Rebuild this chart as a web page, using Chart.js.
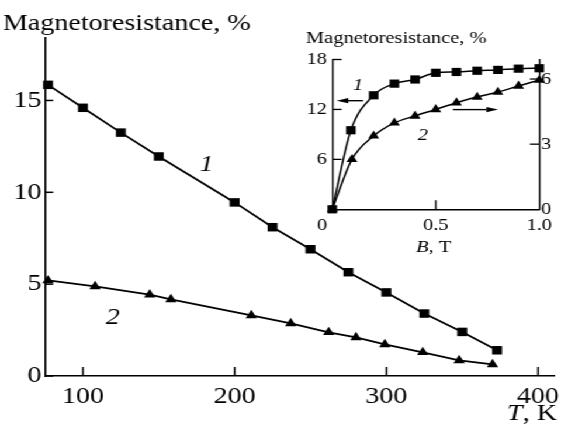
<!DOCTYPE html>
<html>
<head>
<meta charset="utf-8">
<script src="https://cdn.jsdelivr.net/npm/chart.js@4.4.1/dist/chart.umd.min.js"></script>
<style>
    html, body { margin: 0; padding: 0; background: #fff; }
    #stage { position: relative; width: 480px; height: 431px; transform: scaleX(1.16875); transform-origin: 0 0; }
    #stage canvas { position: absolute; top: 0; }
    #mainChart { left: 0; }
    #insetChart { left: 250px; }
</style>
</head>
<body>
<div id="stage">
    <canvas id="mainChart" width="480" height="431"></canvas>
    <canvas id="insetChart" width="230" height="260"></canvas>
</div>
<script>
// Magnetoresistance vs temperature, samples 1 (squares) and 2 (triangles)
const tempSample1 = [77, 100, 125, 150, 200, 225, 250, 275, 300, 325, 350, 373];
const mrSample1 = [15.85, 14.6, 13.25, 11.95, 9.45, 8.1, 6.9, 5.65, 4.55, 3.4, 2.4, 1.4];
const tempSample2 = [77, 108, 144, 158, 211, 237, 262, 280, 299, 324, 348, 370];
const mrSample2 = [5.2, 4.88, 4.43, 4.17, 3.3, 2.86, 2.38, 2.1, 1.72, 1.29, 0.85, 0.63];

// Field dependence (inset): sample 1 on left axis, sample 2 on right axis
const fieldSample1 = [0, 0.09, 0.2, 0.3, 0.4, 0.5, 0.6, 0.7, 0.8, 0.9, 1.0];
const mrField1 = [0, 9.5, 13.7, 15.1, 15.6, 16.4, 16.5, 16.65, 16.75, 16.9, 16.95];
const fieldSample2 = [0, 0.095, 0.2, 0.3, 0.4, 0.5, 0.6, 0.7, 0.8, 0.9, 1.0];
const mrField2 = [0, 2.3, 3.38, 3.98, 4.3, 4.6, 4.91, 5.17, 5.4, 5.68, 5.95];

// Tick values and labels
const tempTicks = [100, 200, 300, 400];
const tempLabels = ['100', '200', '300', '400'];
const mrTicks = [0, 5, 10, 15];
const mrLabels = ['0', '5', '10', '15'];
const fieldTicks = [0, 0.5, 1.0];
const fieldLabels = ['0\u2003', '0.5', '1.0'];
const leftTicks = [0, 6, 12, 18];
const leftLabels = ['', '6', '12', '18'];
const rightTicks = [0, 3, 6];
const rightLabels = ['0', '3', '6'];

const SERIF = '"Liberation Serif", "Times New Roman", serif';

function fixedTicks(values) {
    return scale => { scale.ticks = values.map(v => ({ value: v })); };
}

function fixedSize(prop, size) {
    return scale => {
        scale[prop] = size;
        scale.paddingLeft = scale.paddingRight = scale.paddingTop = scale.paddingBottom = 0;
    };
}

// tick marks pointing into the plot area
function inwardTicks(chart, id, values, len, width) {
    const s = chart.scales[id];
    const a = chart.chartArea;
    const ctx = chart.ctx;
    ctx.save();
    ctx.strokeStyle = '#000';
    ctx.lineWidth = width;
    values.forEach(v => {
        const p = s.getPixelForValue(v);
        ctx.beginPath();
        if (s.isHorizontal()) {
            ctx.moveTo(p, a.bottom);
            ctx.lineTo(p, a.bottom - len);
        } else if (s.position === 'left') {
            ctx.moveTo(a.left, p);
            ctx.lineTo(a.left + len, p);
        } else {
            ctx.moveTo(a.right, p);
            ctx.lineTo(a.right - len, p);
        }
        ctx.stroke();
    });
    ctx.restore();
}

// text made of italic / upright pieces
function richText(ctx, parts, x, y, size, align) {
    const fontOf = p => (p.italic ? 'italic ' : '') + size + 'px ' + SERIF;
    let total = 0;
    parts.forEach(p => { ctx.font = fontOf(p); total += ctx.measureText(p.text).width; });
    let cx = align === 'right' ? x - total : align === 'center' ? x - total / 2 : x;
    ctx.save();
    ctx.fillStyle = '#000';
    ctx.textBaseline = 'alphabetic';
    ctx.textAlign = 'left';
    parts.forEach(p => {
        ctx.font = fontOf(p);
        ctx.fillText(p.text, cx, y);
        cx += ctx.measureText(p.text).width;
    });
    ctx.restore();
}

function labelAt(chart, xId, yId, xv, yv, text, size) {
    const ctx = chart.ctx;
    ctx.save();
    ctx.fillStyle = '#000';
    ctx.font = 'italic ' + size + 'px ' + SERIF;
    ctx.textAlign = 'center';
    ctx.textBaseline = 'middle';
    ctx.fillText(text, chart.scales[xId].getPixelForValue(xv), chart.scales[yId].getPixelForValue(yv));
    ctx.restore();
}

function arrow(chart, xFrom, xTo, yv) {
    const ctx = chart.ctx;
    const sx = chart.scales.x, sy = chart.scales.y;
    const x0 = sx.getPixelForValue(xFrom), x1 = sx.getPixelForValue(xTo), y = sy.getPixelForValue(yv);
    const dir = Math.sign(x1 - x0);
    const head = 10, half = 2.6;
    ctx.save();
    ctx.strokeStyle = '#000';
    ctx.fillStyle = '#000';
    ctx.lineWidth = 1.4;
    ctx.beginPath();
    ctx.moveTo(x0, y);
    ctx.lineTo(x1 - dir * head, y);
    ctx.stroke();
    ctx.beginPath();
    ctx.moveTo(x1, y);
    ctx.lineTo(x1 - dir * head, y - half);
    ctx.lineTo(x1 - dir * head, y + half);
    ctx.closePath();
    ctx.fill();
    ctx.restore();
}

const mainDecor = {
    id: 'mainDecor',
    afterDraw(chart) {
        inwardTicks(chart, 'x', tempTicks, 9, 1.5);
        inwardTicks(chart, 'y', mrTicks, 7, 1.5);
        richText(chart.ctx, [{ text: 'Magnetoresistance, %' }], 2.5, 30, 24, 'left');
        richText(chart.ctx, [{ text: 'T', italic: true }, { text: ', K' }], 476.5, 420, 24, 'right');
        labelAt(chart, 'x', 'y', 181.6, 11.5, '1', 24);
        labelAt(chart, 'x', 'y', 119.7, 3.2, '2', 24);
    }
};

const insetDecor = {
    id: 'insetDecor',
    afterDraw(chart) {
        inwardTicks(chart, 'x', [0.5], 9, 1.3);
        inwardTicks(chart, 'y', [6, 12, 18], 8, 1.3);
        inwardTicks(chart, 'y1', [3, 6], 8, 1.3);
        richText(chart.ctx, [{ text: 'Magnetoresistance, %' }], 11.8, 42.5, 17.5, 'left');
        richText(chart.ctx, [{ text: 'B', italic: true }, { text: ', T' }], 121, 251.5, 17.5, 'center');
        labelAt(chart, 'x', 'y', 0.124, 14.9, '1', 17.5);
        labelAt(chart, 'x', 'y', 0.438, 8.9, '2', 17.5);
        arrow(chart, 0.149, 0.021, 13.05);
        arrow(chart, 0.583, 0.801, 11.98);
    }
};

function series(xs, ys, style, radius, width, axis) {
    return {
        data: xs.map((x, i) => ({ x: x, y: ys[i] })),
        yAxisID: axis || 'y',
        borderColor: '#000',
        backgroundColor: '#000',
        borderWidth: width,
        pointStyle: style,
        pointRadius: radius,
        pointBackgroundColor: '#000',
        pointBorderColor: '#000',
        pointBorderWidth: 0,
        clip: false
    };
}

const tickFont = size => ({ family: SERIF, size: size });

new Chart(document.getElementById('mainChart'), {
    type: 'line',
    data: {
        datasets: [
            Object.assign(series(tempSample1, mrSample1, 'rect', 6, 1.8), { tension: 0 }),
            Object.assign(series(tempSample2, mrSample2, 'triangle', 5.6, 1.8), { tension: 0 })
        ]
    },
    options: {
        responsive: false,
        animation: false,
        events: [],
        layout: { padding: { top: 38, right: 5, left: 0, bottom: 0 } },
        plugins: { legend: { display: false }, tooltip: { enabled: false } },
        scales: {
            x: {
                type: 'linear',
                min: 75,
                max: 410.5,
                afterBuildTicks: fixedTicks(tempTicks),
                afterFit: fixedSize('height', 55),
                grid: { display: false, drawTicks: false },
                border: { display: true, color: '#000', width: 1.6 },
                ticks: {
                    color: '#000', font: tickFont(24), padding: 6, autoSkip: false, maxRotation: 0,
                    callback: (v, i) => tempLabels[i]
                }
            },
            y: {
                type: 'linear',
                min: 0,
                max: 18.4,
                afterBuildTicks: fixedTicks(mrTicks),
                afterFit: fixedSize('width', 38.5),
                grid: { display: false, drawTicks: false },
                border: { display: true, color: '#000', width: 1.6 },
                ticks: {
                    color: '#000', font: tickFont(24), padding: 3, autoSkip: false,
                    callback: (v, i) => mrLabels[i]
                }
            }
        }
    },
    plugins: [mainDecor]
});

new Chart(document.getElementById('insetChart'), {
    type: 'line',
    data: {
        datasets: [
            Object.assign(series(fieldSample1, mrField1, 'rect', 5.8, 1.5, 'y'), { cubicInterpolationMode: 'monotone' }),
            Object.assign(series(fieldSample2, mrField2, 'triangle', 5.4, 1.5, 'y1'), { cubicInterpolationMode: 'monotone' })
        ]
    },
    options: {
        responsive: false,
        animation: false,
        events: [],
        layout: { padding: { top: 59.5, right: 0, left: 0, bottom: 0 } },
        plugins: { legend: { display: false }, tooltip: { enabled: false } },
        scales: {
            x: {
                type: 'linear',
                min: 0,
                max: 1,
                afterBuildTicks: fixedTicks(fieldTicks),
                afterFit: fixedSize('height', 50.7),
                grid: { display: false, drawTicks: false },
                border: { display: true, color: '#000', width: 1.4 },
                ticks: {
                    color: '#000', font: tickFont(17.5), padding: 6, autoSkip: false, maxRotation: 0,
                    callback: (v, i) => fieldLabels[i]
                }
            },
            y: {
                type: 'linear',
                position: 'left',
                min: 0,
                max: 18,
                afterBuildTicks: fixedTicks(leftTicks),
                afterFit: fixedSize('width', 34.3),
                grid: { display: false, drawTicks: false },
                border: { display: true, color: '#000', width: 1.4 },
                ticks: {
                    color: '#000', font: tickFont(17.5), padding: 4.5, autoSkip: false,
                    callback: (v, i) => leftLabels[i]
                }
            },
            y1: {
                type: 'linear',
                position: 'right',
                min: 0,
                max: 6.9,
                afterBuildTicks: fixedTicks(rightTicks),
                afterFit: fixedSize('width', 18.6),
                grid: { display: false, drawTicks: false },
                border: { display: true, color: '#000', width: 1.4 },
                ticks: {
                    color: '#000', font: tickFont(17.5), padding: 1.5, autoSkip: false,
                    callback: (v, i) => rightLabels[i]
                }
            }
        }
    },
    plugins: [insetDecor]
});
</script>
</body>
</html>
